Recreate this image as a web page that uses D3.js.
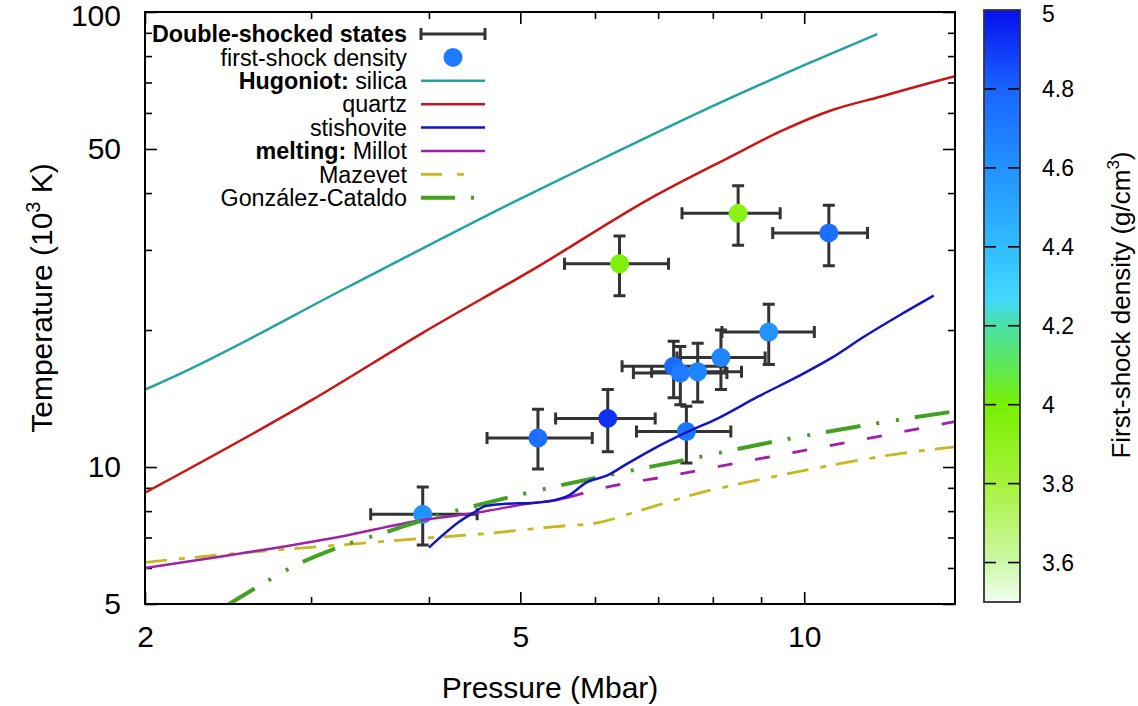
<!DOCTYPE html>
<html><head><meta charset="utf-8">
<script src="https://cdn.jsdelivr.net/npm/d3@7"></script>
<style>body{margin:0;background:#fff} text{font-family:"Liberation Sans",Arial,Helvetica,sans-serif;}</style>
</head><body><svg id="c" width="1138" height="706"></svg>
<script>
// ---------------- data ----------------
const xTicksMajor = [2, 5, 10];
const xTicksMinor = [3, 4, 6, 7, 8, 9];
const yTicksMajor = [5, 10, 50, 100];
const yTicksMinor = [6, 7, 8, 9, 20, 30, 40, 60, 70, 80, 90];
const cbTicks = [3.6, 3.8, 4.0, 4.2, 4.4, 4.6, 4.8, 5.0];

// double-shocked states
const ptP    = [3.94, 5.22, 6.19, 7.50, 6.37, 8.51, 10.62, 9.17, 8.16, 7.27, 7.39, 7.71];
const ptPlo  = [3.47, 4.61, 5.45, 6.64, 5.57, 7.42, 9.26, 8.18, 7.33, 6.41, 6.59, 6.89];
const ptPhi  = [4.50, 5.96, 6.95, 8.36, 7.18, 9.43, 11.67, 10.25, 9.09, 8.24, 8.28, 8.58];
const ptT    = [7.87, 11.58, 12.79, 11.97, 27.97, 36.1, 32.7, 19.8, 17.4, 16.65, 16.1, 16.2];
const ptTlo  = [6.74, 9.9, 10.8, 10.2, 23.8, 30.7, 27.7, 16.8, 14.8, 14.2, 13.7, 13.9];
const ptThi  = [9.04, 13.4, 14.8, 13.6, 32.2, 41.5, 37.6, 22.8, 20.0, 18.9, 18.4, 18.7];
const ptRho  = [4.6, 4.75, 4.92, 4.72, 3.97, 3.93, 4.75, 4.6, 4.65, 4.78, 4.7, 4.65];

// Hugoniots
const silicaP = [2.0, 2.195, 3.29, 4.985, 6.20, 7.73, 10.0, 11.95];
const silicaT = [14.79, 16.15, 24.93, 38.76, 48.3, 60.12, 76.4, 89.45];
const quartzP = [2.0, 3.01, 3.94, 5.23, 6.84, 8.38, 9.46, 10.69, 12.07, 13.64, 14.45];
const quartzT = [8.78, 14.06, 19.72, 27.64, 38.76, 48.25, 54.79, 60.83, 65.23, 70.02, 72.29];
const stishP = [4.00, 4.12, 4.31, 4.45, 4.60, 4.82, 5.19, 5.45, 5.63, 5.86, 6.20, 6.46, 6.89, 7.50, 8.11, 8.94, 9.85, 10.69, 11.59, 12.57, 13.72];
const stishT = [6.65, 7.03, 7.59, 7.91, 8.22, 8.30, 8.35, 8.47, 8.66, 9.22, 9.61, 10.11, 10.91, 11.91, 12.81, 14.29, 15.82, 17.37, 19.38, 21.45, 23.81];

// melting curves
const millotP = [2.0, 2.40, 3.22, 3.94, 4.45, 5.15, 5.45, 5.63, 6.01, 7.30, 8.94, 10.52, 14.45];
const millotT = [6.00, 6.35, 7.03, 7.65, 7.91, 8.33, 8.45, 8.58, 8.91, 9.61, 10.42, 11.09, 12.58];
const millotSolidUntil = 5.63;
const mazevetP = [2.0, 2.40, 3.22, 3.94, 4.63, 5.45, 6.05, 6.68, 7.73, 8.94, 10.52, 12.37, 14.45];
const mazevetT = [6.17, 6.41, 6.74, 6.97, 7.15, 7.40, 7.55, 8.01, 8.76, 9.37, 10.03, 10.64, 11.08];
const gcP = [2.43, 2.65, 2.87, 3.22, 3.66, 3.97, 4.52, 4.90, 5.60, 6.36, 7.48, 9.31, 11.40, 14.45];
const gcT = [4.93, 5.50, 6.04, 6.68, 7.27, 7.68, 8.26, 8.61, 9.18, 9.70, 10.37, 11.38, 12.28, 13.26];

// colour palette for first-shock density
const rhoStops  = [3.5, 3.6, 3.8, 4.0, 4.1, 4.2, 4.27, 4.4, 4.6, 4.8, 5.0];
const rhoColors = ['#f2fff2', '#cdf8a8', '#a6f23c', '#78f000', '#5ee85a', '#4ce0a6', '#42d8ff', '#31bcff', '#2292ff', '#1a64ff', '#0510f0'];
const legendRho = 4.7;

// ---------------- drawing ----------------
const svg = d3.select('#c');
svg.append('rect').attr('width', 1138).attr('height', 706).attr('fill', '#fff');
const L = 145, R = 955, T = 12, B = 604;
const x = d3.scaleLog().domain([2, 14.45]).range([L, R]);
const y = d3.scaleLog().domain([5, 100]).range([B, T]);
const color = d3.scaleLinear().domain(rhoStops).range(rhoColors).interpolate(d3.interpolateRgb).clamp(true);

svg.append('clipPath').attr('id', 'plotclip').append('rect')
  .attr('x', L).attr('y', T).attr('width', R - L).attr('height', B - T);

// axes
const fmt = d => String(d);
function axisG(axis, tx, ty) {
  const g = svg.append('g').attr('transform', `translate(${tx},${ty})`).call(axis);
  g.select('.domain').remove();
  g.selectAll('line').attr('stroke', '#000').attr('stroke-width', 1.6);
  g.selectAll('text').attr('font-size', 30).attr('fill', '#000');
  return g;
}
axisG(d3.axisBottom(x).tickValues(xTicksMajor).tickFormat(fmt).tickSize(-12).tickPadding(22), 0, B);
axisG(d3.axisBottom(x).tickValues(xTicksMinor).tickFormat('').tickSize(-7), 0, B);
axisG(d3.axisTop(x).tickValues(xTicksMajor).tickFormat('').tickSize(-12), 0, T);
axisG(d3.axisTop(x).tickValues(xTicksMinor).tickFormat('').tickSize(-7), 0, T);
const yl = axisG(d3.axisLeft(y).tickValues(yTicksMajor).tickFormat(fmt).tickSize(-12).tickPadding(24), L, 0);
yl.selectAll('text').filter(d => d === 100).attr('dy', '0.45em');
axisG(d3.axisLeft(y).tickValues(yTicksMinor).tickFormat('').tickSize(-7), L, 0);
axisG(d3.axisRight(y).tickValues(yTicksMajor).tickFormat('').tickSize(-12), R, 0);
axisG(d3.axisRight(y).tickValues(yTicksMinor).tickFormat('').tickSize(-7), R, 0);

// axis titles
svg.append('text').attr('x', (L + R) / 2).attr('y', 698).attr('text-anchor', 'middle')
  .attr('font-size', 30).text('Pressure (Mbar)');
const yt = svg.append('text').attr('transform', 'translate(52,298) rotate(-90)')
  .attr('text-anchor', 'middle').attr('font-size', 30);
yt.append('tspan').text('Temperature (10');
yt.append('tspan').attr('font-size', 20).attr('dy', -12).text('3');
yt.append('tspan').attr('dy', 12).text(' K)');

// error bars and points
const plot = svg.append('g').attr('clip-path', 'url(#plotclip)');
const idx = d3.range(ptP.length);
const eb = plot.append('g').attr('stroke', '#333').attr('stroke-width', 3).attr('fill', 'none');
const cap = 6;
idx.forEach(i => {
  const cx = x(ptP[i]), cy = y(ptT[i]);
  const x0 = x(ptPlo[i]), x1 = x(ptPhi[i]), y0 = y(ptTlo[i]), y1 = y(ptThi[i]);
  eb.append('path').attr('d',
    `M${x0},${cy}H${x1}M${x0},${cy - cap}V${cy + cap}M${x1},${cy - cap}V${cy + cap}` +
    `M${cx},${y0}V${y1}M${cx - cap},${y0}H${cx + cap}M${cx - cap},${y1}H${cx + cap}`);
});
plot.append('g').selectAll('circle').data(idx).join('circle')
  .attr('cx', i => x(ptP[i])).attr('cy', i => y(ptT[i])).attr('r', 9.5)
  .attr('fill', i => color(ptRho[i]));

// curves
const line = d3.line().x(d => x(d[0])).y(d => y(d[1])).curve(d3.curveMonotoneX);
const zip = (a, b) => a.map((v, i) => [v, b[i]]);
function curve(data, col, w, dash) {
  const p = plot.append('path').datum(data).attr('d', line).attr('fill', 'none')
    .attr('stroke', col).attr('stroke-width', w).attr('stroke-linejoin', 'round');
  if (dash) p.attr('stroke-dasharray', dash);
  return p;
}
const mill = zip(millotP, millotT);
curve(zip(mazevetP, mazevetT), '#c8b820', 2.8, '22,12,6,10');
curve(mill.filter(d => d[0] <= millotSolidUntil), '#a020a8', 2.5);
curve(mill.filter(d => d[0] >= millotSolidUntil), '#a020a8', 2.8, '15,23');
curve(zip(gcP, gcT), '#44a020', 4, '35,16,3,17,3,16');
curve(zip(silicaP, silicaT), '#22a3a3', 2.5);
curve(zip(quartzP, quartzT), '#cc1414', 2.5);
curve(zip(stishP, stishT), '#1014c4', 2.5);

// frame
svg.append('rect').attr('x', L).attr('y', T).attr('width', R - L).attr('height', B - T)
  .attr('fill', 'none').attr('stroke', '#000').attr('stroke-width', 2);

// legend
const lg = svg.append('g');
const rowY = d3.range(8).map(i => 34 + i * 23.4);
const tx = 407, sx0 = 421, sx1 = 485;
function ltext(i, bold, normal) {
  const t = lg.append('text').attr('x', tx).attr('y', rowY[i]).attr('dy', '0.35em')
    .attr('text-anchor', 'end').attr('font-size', 23.3);
  if (bold) t.append('tspan').attr('font-weight', 'bold').text(bold);
  if (normal) t.append('tspan').text(normal);
}
ltext(0, 'Double-shocked states', null);
ltext(1, null, 'first-shock density');
ltext(2, 'Hugoniot:', ' silica');
ltext(3, null, 'quartz');
ltext(4, null, 'stishovite');
ltext(5, 'melting:', ' Millot');
ltext(6, null, 'Mazevet');
ltext(7, null, 'González-Cataldo');
lg.append('path').attr('stroke', '#333').attr('stroke-width', 3).attr('fill', 'none')
  .attr('d', `M${sx0},${rowY[0]}H${sx1}M${sx0},${rowY[0] - cap}V${rowY[0] + cap}M${sx1},${rowY[0] - cap}V${rowY[0] + cap}M${(sx0 + sx1) / 2},${rowY[0] - 1.5}V${rowY[0] + 1.5}`);
lg.append('circle').attr('cx', (sx0 + sx1) / 2).attr('cy', rowY[1]).attr('r', 9.5).attr('fill', color(legendRho));
const lsamp = [[2, '#22a3a3', 2.5, null], [3, '#cc1414', 2.5, null], [4, '#1014c4', 2.5, null],
  [5, '#a020a8', 2.5, null], [6, '#c8b820', 2.8, '21,15,7,30'], [7, '#44a020', 4, '34,16,3,30']];
lsamp.forEach(([i, c, w, d]) => {
  const p = lg.append('line').attr('x1', sx0).attr('x2', sx1).attr('y1', rowY[i]).attr('y2', rowY[i])
    .attr('stroke', c).attr('stroke-width', w);
  if (d) p.attr('stroke-dasharray', d);
});

// colour bar
const cbL = 984, cbW = 36, cbT = 10, cbB = 602;
const cy = d3.scaleLinear().domain([3.5, 5.0]).range([cbB, cbT]);
const grad = svg.append('defs').append('linearGradient').attr('id', 'cbgrad')
  .attr('x1', 0).attr('y1', 1).attr('x2', 0).attr('y2', 0);
rhoStops.forEach((s, i) => grad.append('stop').attr('offset', (s - 3.5) / 1.5).attr('stop-color', rhoColors[i]));
svg.append('rect').attr('x', cbL).attr('y', cbT).attr('width', cbW).attr('height', cbB - cbT)
  .attr('fill', 'url(#cbgrad)');
const cbg = svg.append('g');
cbTicks.filter(v => v < 5).forEach(v => {
  cbg.append('line').attr('x1', cbL).attr('x2', cbL + 12).attr('y1', cy(v)).attr('y2', cy(v)).attr('stroke', '#000').attr('stroke-width', 1.6);
  cbg.append('line').attr('x1', cbL + cbW - 12).attr('x2', cbL + cbW).attr('y1', cy(v)).attr('y2', cy(v)).attr('stroke', '#000').attr('stroke-width', 1.6);
});
cbTicks.forEach(v => {
  cbg.append('text').attr('x', 1042).attr('y', cy(v)).attr('dy', v === 5 ? '0.5em' : '0.35em').attr('font-size', 23)
    .text(v === 4 ? '4' : v === 5 ? '5' : v.toFixed(1));
});
svg.append('rect').attr('x', cbL).attr('y', cbT).attr('width', cbW).attr('height', cbB - cbT)
  .attr('fill', 'none').attr('stroke', '#333').attr('stroke-width', 1.8);
const ct = svg.append('text').attr('transform', 'translate(1130,305) rotate(-90)')
  .attr('text-anchor', 'middle').attr('font-size', 26);
ct.append('tspan').text('First-shock density (g/cm');
ct.append('tspan').attr('font-size', 17).attr('dy', -11).text('3');
ct.append('tspan').attr('dy', 11).text(')');
</script></body></html>
